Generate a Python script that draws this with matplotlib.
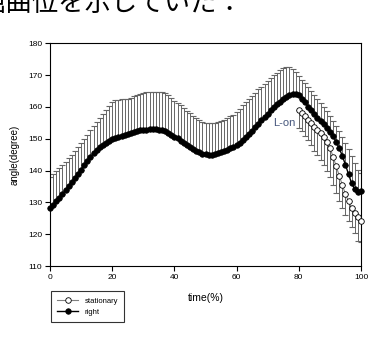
import numpy as np
import matplotlib
matplotlib.use("Agg")
import matplotlib.pyplot as plt

plt.rcParams["font.family"] = ["Liberation Sans", "DejaVu Sans"]

# right side: mean and upper end of the error bar, time 0..100 %
right_x = list(range(0, 101))
right_mean = [128.1, 129.2, 130.3, 131.5, 132.7, 133.9, 135.1, 136.4, 137.7, 139.0,
              140.3, 141.7, 143.0, 144.3, 145.5, 146.5, 147.4, 148.1, 148.7, 149.2,
              149.8, 150.3, 150.7, 151.0, 151.3, 151.5, 151.8, 152.1, 152.4, 152.6,
              152.8, 152.9, 153.0, 153.0, 153.0, 152.9, 152.7, 152.4, 151.9, 151.3,
              150.7, 150.1, 149.4, 148.7, 148.0, 147.3, 146.7, 146.2, 145.7, 145.3,
              145.1, 145.0, 145.0, 145.2, 145.4, 145.7, 146.1, 146.5, 147.0, 147.5,
              148.1, 148.8, 149.6, 150.5, 151.5, 152.5, 153.6, 154.7, 155.8, 156.9,
              157.9, 158.9, 159.9, 160.8, 161.7, 162.5, 163.2, 163.8, 164.2, 164.1,
              163.6, 162.6, 161.4, 160.1, 158.9, 157.7, 156.6, 155.6, 154.6, 153.5,
              152.2, 150.8, 149.1, 147.0, 144.6, 141.8, 138.8, 136.0, 134.1, 133.3,
              133.6]
right_hi = [138.1, 139.0, 139.9, 140.8, 141.7, 142.6, 143.8, 145.0, 146.2, 147.4,
            148.7, 150.0, 151.3, 152.6, 153.9, 155.2, 156.5, 157.8, 159.1, 160.3,
            161.4, 162.1, 162.3, 162.4, 162.4, 162.5, 162.8, 163.3, 163.8, 164.2,
            164.4, 164.6, 164.7, 164.8, 164.8, 164.8, 164.7, 164.3, 163.6, 162.8,
            162.0, 161.2, 160.5, 159.7, 158.8, 158.0, 157.2, 156.5, 155.8, 155.2,
            154.9, 154.8, 154.8, 154.9, 155.2, 155.6, 156.0, 156.5, 157.0, 157.6,
            158.4, 159.4, 160.5, 161.5, 162.5, 163.5, 164.5, 165.5, 166.4, 167.3,
            168.2, 169.1, 170.0, 170.8, 171.5, 172.1, 172.4, 172.4, 172.0, 171.0,
            169.6, 168.5, 167.4, 166.2, 165.0, 163.8, 162.6, 161.3, 160.0, 158.6,
            157.1, 155.5, 154.0, 152.3, 150.6, 148.8, 146.8, 144.7, 142.4, 140.3,
            139.3]

# stationary: mean and lower end of the error bar, time 80..100 %
stat_x = list(range(80, 101))
stat_mean = [159.0, 158.0, 157.0, 156.0, 154.8, 153.6, 152.6, 151.7, 150.6, 149.1,
             147.2, 144.4, 141.4, 138.4, 135.4, 132.6, 130.3, 128.3, 126.8, 125.4,
             124.0]
stat_lo = [153.5, 152.3, 151.0, 149.6, 148.0, 146.3, 144.8, 143.3, 141.8, 140.0,
           138.0, 135.6, 133.0, 130.5, 128.2, 126.0, 124.0, 122.2, 120.4, 118.0,
           117.5]

x_ticks = [0, 20, 40, 60, 80, 100]
y_ticks = [110, 120, 130, 140, 150, 160, 170, 180]

fig = plt.figure(figsize=(3.77, 3.47), dpi=100)
ax = fig.add_axes([0.1326, 0.2334, 0.825, 0.6418])

rm = np.array(right_mean)
rh = np.array(right_hi)
sm = np.array(stat_mean)
sl = np.array(stat_lo)

eb1 = ax.errorbar(right_x, rm, yerr=[np.zeros_like(rm), rh - rm], fmt="none",
                  ecolor="#666666", elinewidth=0.7, capsize=2.2, capthick=0.8)
for c in eb1[1]:
    c.set_color("black")
eb2 = ax.errorbar(stat_x, sm, yerr=[sm - sl, np.zeros_like(sm)], fmt="none",
                  ecolor="#666666", elinewidth=0.7, capsize=2.2, capthick=0.8)
for c in eb2[1]:
    c.set_color("black")

ax.plot(right_x, rm, color="black", lw=1.0, marker="o", ms=4.0,
        mfc="black", mec="black", mew=0.5, label="right", clip_on=False, zorder=3)
ax.plot(stat_x, sm, color="#808080", lw=0.8, marker="o", ms=4.0,
        mfc="white", mec="black", mew=0.6, label="stationary", clip_on=False, zorder=4)

ax.text(78.8, 154.9, "L-on", color="#46577d", fontsize=8, ha="right", va="center")

ax.set_xlim(0, 100)
ax.set_ylim(110, 180)
ax.set_xticks(x_ticks)
ax.set_yticks(y_ticks)
ax.tick_params(direction="out", length=3.5, width=0.8, labelsize=6, pad=2,
               top=False, right=False)
for s in ax.spines.values():
    s.set_linewidth(0.8)
ax.set_xlabel("time(%)", fontsize=7.5, labelpad=9)
ax.set_ylabel("angle(degree)", fontsize=7, labelpad=6)

h, l = ax.get_legend_handles_labels()
fig.legend(h[::-1], l[::-1], loc="upper left", bbox_to_anchor=(0.135, 0.161),
           fontsize=5.5, frameon=True, fancybox=False, edgecolor="black",
           borderaxespad=0, handlelength=2.8, borderpad=0.8, labelspacing=0.5)
fig.legends[0].get_frame().set_linewidth(0.8)

# clipped caption line at the very top of the picture
fig.text(-0.056, 1 - 11 / 347, "屈曲位を示していた：", fontsize=19,
         family=["Noto Sans CJK JP", "DejaVu Sans"], va="baseline", ha="left")

fig.savefig("out.png", dpi=100)
